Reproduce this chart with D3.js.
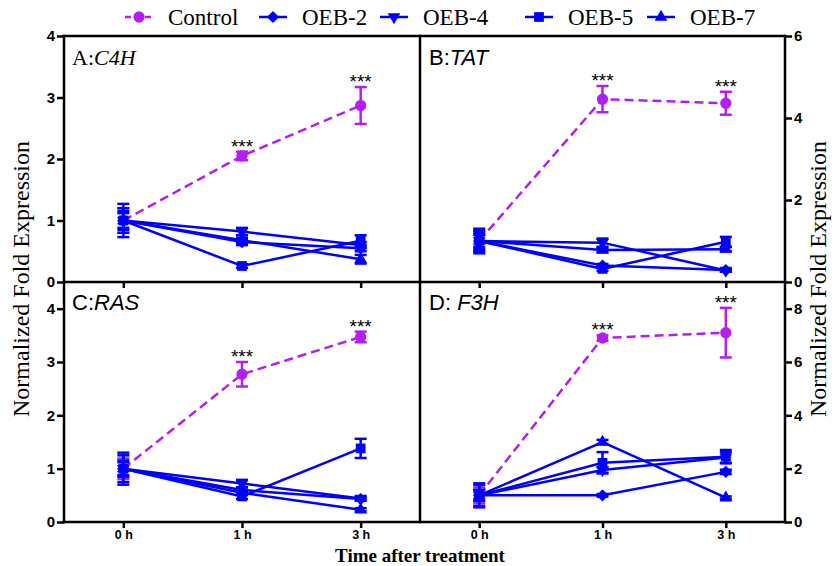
<!DOCTYPE html>
<html>
<head>
<meta charset="utf-8">
<script src="https://cdn.jsdelivr.net/npm/d3@7"></script>
<style>
  html, body { margin: 0; padding: 0; background: #fff; }
  svg { display: block; }
</style>
</head>
<body>
<svg id="chart" width="840" height="566"></svg>
<script>
// ---------------- DATA ----------------
const timePoints = ["0 h", "1 h", "3 h"];
const seriesNames = ["Control", "OEB-2", "OEB-4", "OEB-5", "OEB-7"];
const panelTitles = ["A:", "B:", "C:", "D: "];
const geneNames = ["C4H", "TAT", "RAS", "F3H"];

// Panel A: C4H (rows follow seriesNames)
const c4hMeans = [[1.0, 2.05, 2.87], [1.0, 0.65, 0.55], [1.0, 0.82, 0.60], [1.0, 0.26, 0.67], [1.0, 0.68, 0.37]];
const c4hErrors = [[0.20, 0.07, 0.30], [0.15, 0.05, 0.05], [0.27, 0.06, 0.05], [0.20, 0.03, 0.09], [0.12, 0.04, 0.07]];
// Panel B: TAT
const tatMeans = [[1.0, 4.46, 4.36], [1.0, 0.40, 0.29], [1.0, 0.96, 0.28], [1.0, 0.32, 0.98], [1.0, 0.78, 0.80]];
const tatErrors = [[0.25, 0.32, 0.28], [0.20, 0.04, 0.03], [0.30, 0.10, 0.03], [0.25, 0.05, 0.12], [0.15, 0.05, 0.05]];
// Panel C: RAS
const rasMeans = [[1.0, 2.77, 3.47], [1.0, 0.60, 0.43], [1.0, 0.72, 0.44], [1.0, 0.48, 1.38], [1.0, 0.55, 0.23]];
const rasErrors = [[0.19, 0.23, 0.10], [0.15, 0.05, 0.03], [0.30, 0.07, 0.03], [0.25, 0.05, 0.18], [0.12, 0.04, 0.03]];
// Panel D: F3H
const f3hMeans = [[1.0, 6.90, 7.10], [1.0, 1.00, 1.88], [1.0, 1.95, 2.42], [1.0, 2.22, 2.45], [1.0, 3.00, 0.91]];
const f3hErrors = [[0.30, 0.10, 0.93], [0.20, 0.05, 0.08], [0.45, 0.10, 0.20], [0.40, 0.40, 0.25], [0.20, 0.08, 0.05]];

const yTicksA = [0, 1, 2, 3, 4];
const yTicksB = [0, 2, 4, 6];
const yTicksC = [0, 1, 2, 3, 4];
const yTicksD = [0, 2, 4, 6, 8];
const significance = ["", "***", "***"];

// ---------------- LAYOUT ----------------
const svg = d3.select("#chart");
const magenta = "#b31ef2";
const blue = "#0000ff";
const colors = [magenta, blue, blue, blue, blue];
const SW = 2.5;

const X0 = 64, XM = 420, X1 = 785;
const Y0 = 36, YM = 282, Y1 = 522;

const panels = [
  { means: c4hMeans, errs: c4hErrors, ticks: yTicksA, max: 4,   x: [X0, XM], y: [YM, Y0], side: "left",  xLabels: false, serif: true,  pad: 0.5 },
  { means: tatMeans, errs: tatErrors, ticks: yTicksB, max: 6,   x: [XM, X1], y: [YM, Y0], side: "right", xLabels: false, serif: false, pad: 0.48 },
  { means: rasMeans, errs: rasErrors, ticks: yTicksC, max: 4.5, x: [X0, XM], y: [Y1, YM], side: "left",  xLabels: true,  serif: false, pad: 0.5 },
  { means: f3hMeans, errs: f3hErrors, ticks: yTicksD, max: 9,   x: [XM, X1], y: [Y1, YM], side: "right", xLabels: true,  serif: false, pad: 0.48 }
];

function symbolPath(i, size) {
  const types = [d3.symbolCircle, d3.symbolSquare, d3.symbolTriangle, d3.symbolSquare, d3.symbolTriangle];
  return d3.symbol().type(types[i]).size(size)();
}
function symbolRotate(i) {
  if (i === 1) return 45;   // diamond
  if (i === 2) return 180;  // triangle down
  return 0;
}
const symbolSizes = [100, 75, 70, 95, 70];

panels.forEach((p, pi) => {
  const g = svg.append("g");
  const x = d3.scalePoint().domain(timePoints).range(p.x).padding(p.pad);
  const y = d3.scaleLinear().domain([0, p.max]).range(p.y);

  // y axis
  const yAxis = (p.side === "left" ? d3.axisLeft(y) : d3.axisRight(y))
    .tickValues(p.ticks).tickSize(7).tickPadding(2).tickFormat(d3.format("d"));
  const ya = g.append("g")
    .attr("transform", `translate(${p.side === "left" ? p.x[0] : p.x[1]},0)`)
    .call(yAxis);
  ya.select(".domain").remove();
  ya.selectAll("line").attr("stroke", "#000").attr("stroke-width", SW);
  ya.selectAll("text").attr("font-family", "Liberation Sans, Arial, sans-serif")
    .attr("font-weight", "bold").attr("font-size", 15).attr("fill", "#000");

  // x axis
  const xAxis = d3.axisBottom(x).tickSize(6).tickPadding(2);
  const xa = g.append("g").attr("transform", `translate(0,${p.y[0]})`).call(xAxis);
  xa.select(".domain").remove();
  xa.selectAll("line").attr("stroke", "#000").attr("stroke-width", SW);
  xa.selectAll("text").attr("font-family", "Liberation Sans, Arial, sans-serif")
    .attr("font-weight", "bold").attr("font-size", 12.5).attr("fill", "#000");
  if (!p.xLabels) xa.selectAll("text").remove();

  // series (control first, blue over it)
  p.means.forEach((vals, si) => {
    const pts = vals.map((v, ti) => ({ t: timePoints[ti], v, e: p.errs[si][ti] }));
    const sg = g.append("g");
    sg.append("path")
      .datum(pts)
      .attr("fill", "none")
      .attr("stroke", colors[si])
      .attr("stroke-width", SW)
      .attr("stroke-dasharray", si === 0 ? "9,5" : null)
      .attr("d", d3.line().x(d => x(d.t)).y(d => y(d.v)));
    const eb = sg.selectAll(".eb").data(pts).enter().append("g")
      .attr("stroke", colors[si]).attr("stroke-width", SW);
    eb.append("line").attr("x1", d => x(d.t)).attr("x2", d => x(d.t))
      .attr("y1", d => y(d.v - d.e)).attr("y2", d => y(d.v + d.e));
    eb.append("line").attr("x1", d => x(d.t) - 6).attr("x2", d => x(d.t) + 6)
      .attr("y1", d => y(d.v - d.e)).attr("y2", d => y(d.v - d.e));
    eb.append("line").attr("x1", d => x(d.t) - 6).attr("x2", d => x(d.t) + 6)
      .attr("y1", d => y(d.v + d.e)).attr("y2", d => y(d.v + d.e));
    sg.selectAll(".mk").data(pts).enter().append("path")
      .attr("d", symbolPath(si, symbolSizes[si]))
      .attr("fill", colors[si])
      .attr("transform", d => `translate(${x(d.t)},${y(d.v)}) rotate(${symbolRotate(si)})`);
  });

  // significance stars over control
  p.means[0].forEach((v, ti) => {
    if (!significance[ti]) return;
    g.append("text")
      .attr("x", x(timePoints[ti]))
      .attr("y", y(v + p.errs[0][ti]) + 1)
      .attr("text-anchor", "middle")
      .attr("font-family", "Liberation Sans, Arial, sans-serif")
      .attr("font-size", 19)
      .attr("fill", "#000")
      .text(significance[ti]);
  });

  // panel title
  const t = g.append("text")
    .attr("x", p.x[0] + (pi % 2 === 0 ? 8 : 9))
    .attr("y", p.y[1] + (pi < 2 ? 29 : 28))
    .attr("font-family", p.serif ? "Liberation Serif, Times New Roman, serif" : "Liberation Sans, Arial, sans-serif")
    .attr("font-size", 22)
    .attr("fill", "#000");
  t.append("tspan").text(panelTitles[pi]);
  t.append("tspan").attr("font-style", "italic").text(geneNames[pi]);
});

// frame lines
const frame = svg.append("g").attr("stroke", "#000").attr("stroke-width", SW).attr("fill", "none");
[[X0, Y0, X1, Y0], [X0, YM, X1, YM], [X0, Y1, X1, Y1], [X0, Y0, X0, Y1], [XM, Y0, XM, Y1], [X1, Y0, X1, Y1]]
  .forEach(l => frame.append("line").attr("x1", l[0]).attr("y1", l[1]).attr("x2", l[2]).attr("y2", l[3])
    .attr("stroke-linecap", "square"));

// axis titles
const serif = "Liberation Serif, Times New Roman, serif";
svg.append("text").attr("transform", `translate(29,${(Y0 + Y1) / 2}) rotate(-90)`)
  .attr("text-anchor", "middle").attr("font-family", serif).attr("font-size", 24).attr("fill", "#000")
  .text("Normalized Fold Expression");
svg.append("text").attr("transform", `translate(826,${(Y0 + Y1) / 2}) rotate(-90)`)
  .attr("text-anchor", "middle").attr("font-family", serif).attr("font-size", 24).attr("fill", "#000")
  .text("Normalized Fold Expression");
svg.append("text").attr("x", XM).attr("y", 562)
  .attr("text-anchor", "middle").attr("font-family", serif).attr("font-weight", "bold")
  .attr("font-size", 19).attr("fill", "#000")
  .text("Time after treatment");

// legend
const legendX = [125, 259, 380, 525, 647];
const lg = svg.append("g");
seriesNames.forEach((name, si) => {
  const lx = legendX[si], ly = 17;
  lg.append("line").attr("x1", lx).attr("x2", lx + 28).attr("y1", ly).attr("y2", ly)
    .attr("stroke", colors[si]).attr("stroke-width", SW)
    .attr("stroke-dasharray", si === 0 ? "6,4" : null);
  lg.append("path").attr("d", symbolPath(si, symbolSizes[si]))
    .attr("fill", colors[si])
    .attr("transform", `translate(${lx + 14},${ly}) rotate(${symbolRotate(si)})`);
  lg.append("text").attr("x", lx + 43).attr("y", ly + 8)
    .attr("font-family", serif).attr("font-size", 23).attr("fill", "#000")
    .text(name);
});
</script>
</body>
</html>
